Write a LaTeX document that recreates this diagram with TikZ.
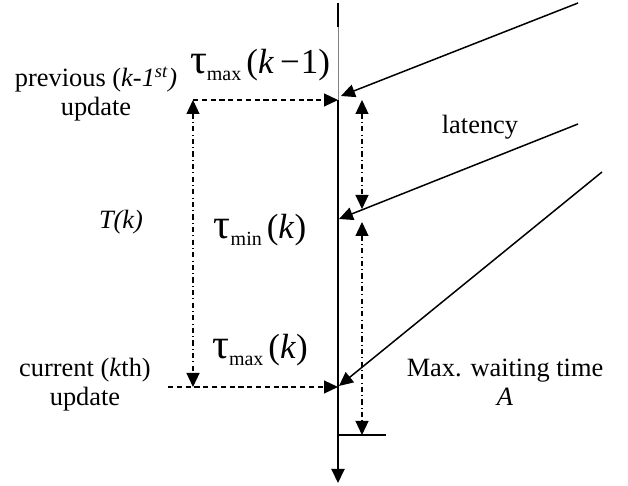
\documentclass[tikz,border=0pt]{standalone}
\usepackage{fontspec}
\setmainfont{Liberation Serif}
\usetikzlibrary{arrows.meta}
\newcommand\mylbl[2]{{\fontsize{21}{21}\selectfont τ}\raisebox{-0.45ex}{\fontsize{10}{10}\selectfont #1}\hspace{2.5pt}(#2)}
\begin{document}
\begin{tikzpicture}[x=0.5pt,y=-0.5pt,
  >={Triangle[length=7pt,width=6.5pt]},
  tip/.style={->},
  dtip/.style={<->},
  dsh/.style={line width=0.6pt,dash pattern=on 2.6pt off 1.8pt},
  dshdot/.style={line width=0.6pt,dash pattern=on 2.6pt off 1.6pt on 0.5pt off 1.6pt},
  ray/.style={line width=0.75pt},
  txt/.style={font=\fontsize{13.2}{14.5}\selectfont,inner sep=0pt,align=center},
  mth/.style={font=\fontsize{17.5}{18}\selectfont,inner sep=0pt}]
\useasboundingbox (0,0) rectangle (628,486);
% axis
\coordinate (ax0) at (338,3);
\coordinate (ax1) at (338,27);
\coordinate (p1) at (338,100);
\coordinate (p2) at (338,387);
\coordinate (axend) at (338,483);
\draw[line width=1pt] (ax0) -- (ax1);
\draw[line width=0.4pt,gray] (ax1) -- (p1);
\draw[line width=1pt,->] (p1) -- (axend);
% incoming rays
\coordinate (r1s) at (578,3);
\coordinate (r1e) at (341,96);
\coordinate (r2s) at (578,124);
\coordinate (r2e) at (339,219);
\coordinate (r3s) at (602,172);
\coordinate (r3e) at (339,386);
\draw[ray,tip] (r1s) -- (r1e);
\draw[ray,tip] (r2s) -- (r2e);
\draw[ray,tip] (r3s) -- (r3e);
% dashed update arrows
\coordinate (d1s) at (193,100);
\coordinate (d2s) at (168,387);
\draw[dsh,tip] (d1s) -- (p1);
\draw[dsh,tip] (d2s) -- (p2);
% T(k) measure
\coordinate (t1) at (193,100);
\coordinate (t2) at (193,387);
\draw[dshdot,dtip] (t1) -- (t2);
% latency measures
\coordinate (l1) at (362,100);
\coordinate (l2) at (362,209);
\coordinate (l3) at (362,222);
\coordinate (l4) at (362,435);
\draw[dshdot,dtip] (l1) -- (l2);
\draw[dshdot,dtip] (l3) -- (l4);
\coordinate (h1) at (338,435);
\coordinate (h2) at (386,435);
\draw[line width=0.65pt] (h1) -- (h2);
% labels
\node[txt] (prev) at (96,94) {previous (\textit{k-1\textsuperscript{st})}\\update};
\node[txt] (cur) at (85,385) {current (\textit{k}th)\\update};
\node[txt] (Tk) at (121,222) {\textit{T(k)}};
\node[txt] (lat) at (480,127) {latency};
\node[txt,text depth=0pt] (maxw) at (505,382) {Max. waiting time\\\textit{A}};
\node[mth] (tmax1) at (260,65) {\mylbl{max}{\textit{k}\hspace{3pt}−\hspace{0.5pt}1}};
\node[mth] (tmin) at (260,230) {\mylbl{min}{\textit{k}}};
\node[mth] (tmax) at (260,350) {\mylbl{max}{\textit{k}}};
\end{tikzpicture}
\end{document}
